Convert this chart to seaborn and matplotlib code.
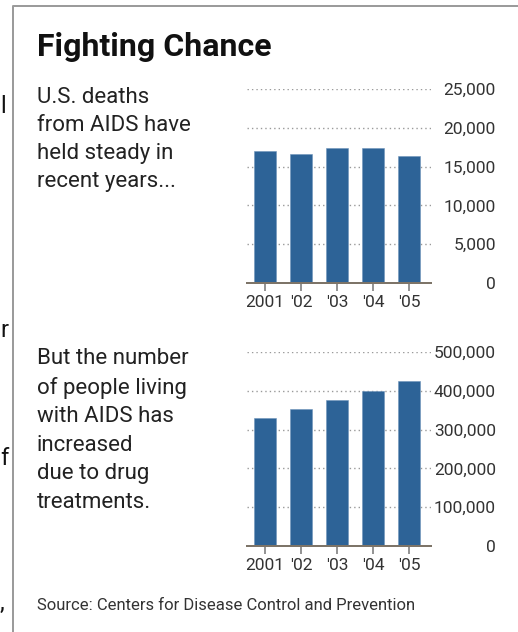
import matplotlib
matplotlib.use("Agg")
import matplotlib.pyplot as plt
from matplotlib.lines import Line2D
import seaborn as sns
import pandas as pd

# ---- data ----
years = ["2001", "'02", "'03", "'04", "'05"]
deaths = [16950, 16650, 17400, 17450, 16400]
living = [331000, 353000, 376000, 400000, 426000]
deaths_ticks = [0, 5000, 10000, 15000, 20000, 25000]
living_ticks = [0, 100000, 200000, 300000, 400000, 500000]
title = "Fighting Chance"
text_top = "U.S. deaths\nfrom AIDS have\nheld steady in\nrecent years..."
text_bottom = "But the number\nof people living\nwith AIDS has\nincreased\ndue to drug\ntreatments."
source = "Source: Centers for Disease Control and Prevention"

sns.set_theme(style="white")
plt.rcParams['font.family'] = ['Roboto', 'DejaVu Sans']

W, H = 518, 632
fig = plt.figure(figsize=(W / 100, H / 100), dpi=100)
fig.patch.set_facecolor("white")

BAR = "#2d6397"
PT = 72 / 100  # points per pixel


def px_axes(left, top, right, bottom):
    return fig.add_axes([left / W, 1 - bottom / H, (right - left) / W, (bottom - top) / H])


def draw(ax, vals, ticks):
    df = pd.DataFrame({"year": years, "value": vals})
    sns.barplot(data=df, x="year", y="value", color=BAR, width=0.61, ax=ax,
                saturation=1, edgecolor="#6f95bb", linewidth=0.4)
    ax.set_xlim(-0.5, 4.61)
    ax.set_ylim(ticks[0], ticks[-1])
    ax.set_yticks(ticks)
    ax.set_yticklabels([f"{t:,}" for t in ticks])
    ax.set_xlabel("")
    ax.set_ylabel("")
    ax.set_facecolor("none")
    ax.set_axisbelow(True)
    ax.yaxis.grid(True, color="#9a9a9a", linestyle=(0, (1, 2.2)), linewidth=1.0)
    ax.xaxis.grid(False)
    for s in ["top", "left", "right"]:
        ax.spines[s].set_visible(False)
    ax.spines["bottom"].set_color("#7d7468")
    ax.spines["bottom"].set_linewidth(2 * PT)
    ax.yaxis.tick_right()
    ax.tick_params(axis="y", length=0, pad=65 * PT, labelsize=12.5, labelcolor="#333333")
    for lab in ax.get_yticklabels():
        lab.set_ha("right")
    ax.tick_params(axis="x", bottom=True, length=8 * PT, width=1.3, color="#8a8a8a",
                   pad=3, labelsize=12.5, labelcolor="#333333", direction="out")


ax1 = px_axes(247, 89, 431, 283)
draw(ax1, deaths, deaths_ticks)
ax2 = px_axes(247, 352.3, 431, 545.7)
draw(ax2, living, living_ticks)

# texts (multi-line blocks anchored at the baseline of their last line)
fig.text(37 / W, 1 - 56 / H, title, fontsize=23, fontweight="bold", color="#111111",
         ha="left", va="baseline")
fig.text(37 / W, 1 - 187.5 / H, text_top, fontsize=16, color="#222222", ha="left", va="baseline",
         linespacing=1.45)
fig.text(37 / W, 1 - 508 / H, text_bottom, fontsize=16, color="#222222", ha="left", va="baseline",
         linespacing=1.47)
fig.text(37 / W, 1 - 610 / H, source, fontsize=12, color="#333333", ha="left", va="baseline")

# frame
fig.add_artist(Line2D([13 / W, 13 / W, 1], [0, 1 - 6 / H, 1 - 6 / H], transform=fig.transFigure,
                      color="#9b9b9b", linewidth=2 * PT))

# stray characters from neighbouring article text
for ch, y in [("l", 113), ("r", 337), ("f", 465), (",", 610)]:
    fig.text(0 / W, 1 - y / H, ch, fontsize=17, color="#111111", ha="left", va="baseline")

fig.savefig("out.png", dpi=100, facecolor="white")
